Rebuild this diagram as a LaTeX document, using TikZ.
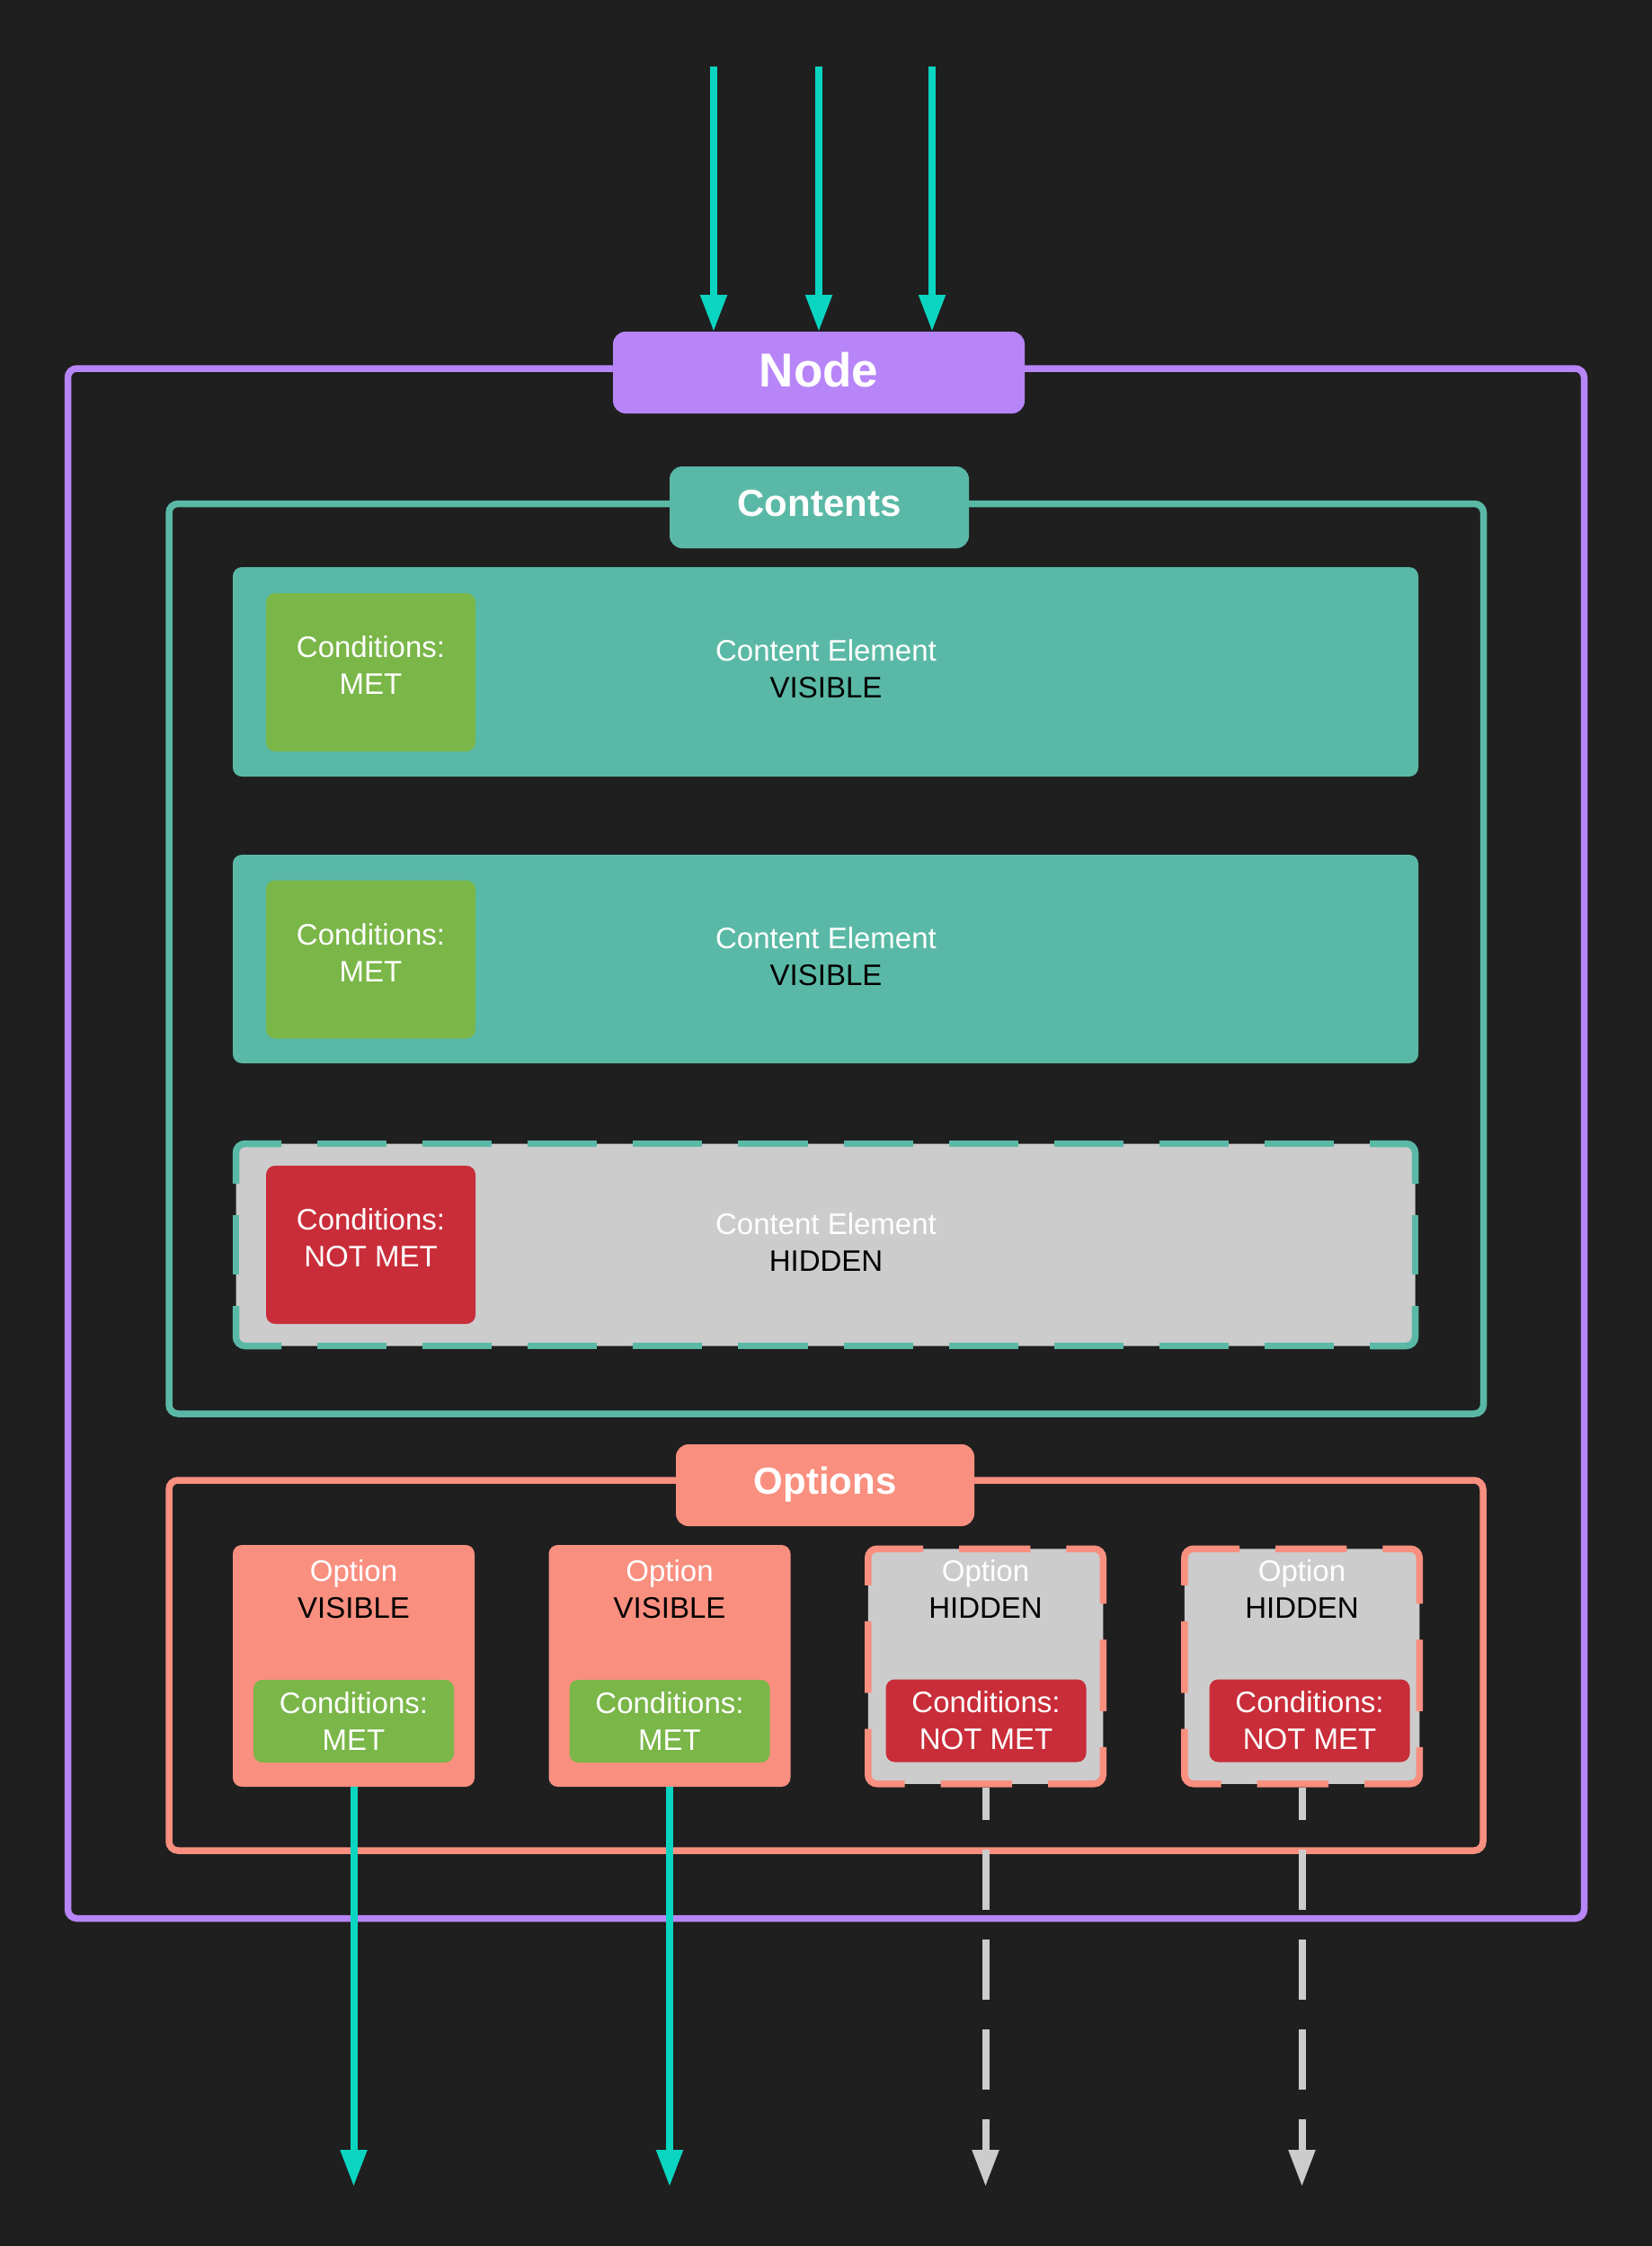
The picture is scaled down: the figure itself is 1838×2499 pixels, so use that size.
\documentclass[tikz,border=0pt]{standalone}
\usepackage{fontspec}
\setmainfont{Liberation Sans}
\usetikzlibrary{arrows.meta}
\definecolor{bg}{HTML}{1F1F1F}
\definecolor{npurple}{HTML}{B785F8}
\definecolor{nteal}{HTML}{5AB9A6}
\definecolor{ngreen}{HTML}{7AB648}
\definecolor{nred}{HTML}{C92D39}
\definecolor{nsalmon}{HTML}{F98F7F}
\definecolor{ngrey}{HTML}{CCCCCC}
\definecolor{ncyan}{HTML}{0AD5C1}
\begin{document}
\begin{tikzpicture}[x=1pt,y=-1pt,
  frame/.style={draw, line width=7.5pt, rounded corners=10pt, inner sep=0pt, outer sep=0pt, minimum width=1462pt},
  lbl/.style={rounded corners=14pt, inner sep=0pt, outer sep=0pt, text=white, minimum height=91pt},
  box/.style={rounded corners=10pt, inner sep=0pt, outer sep=0pt},
  txt/.style={text=white, align=center, inner sep=0pt, font=\fontsize{33}{41}\selectfont},
  optsize/.style={minimum width=269pt, minimum height=269pt},
  hidsize/.style={minimum width=261.5pt, minimum height=261.5pt},
  inner/.style={box, minimum width=223pt, minimum height=92pt},
  condbox/.style={box, minimum width=233pt, minimum height=176pt},
  optdash/.style={draw=nsalmon, line width=7.5pt, rounded corners=10pt, dash pattern=on 79.5pt off 40pt on 97.7pt off 40pt, dash phase=39.75pt},
  rowsolid/.style={draw=nteal, line width=7.5pt, rounded corners=10pt},
  rowdashh/.style={draw=nteal, line width=7.5pt, dash pattern=on 77.1pt off 40pt, dash phase=77.1pt},
  rowdashv/.style={draw=nteal, line width=7.5pt, dash pattern=on 66pt off 35pt, dash phase=66pt},
  cyanarr/.style={draw=ncyan, line width=8pt, -{Triangle[length=41pt,width=28pt]}},
  greyarr/.style={draw=ngrey, line width=8pt, dash pattern=on 67pt off 33pt, dash phase=30.5pt, -{Triangle[length=41pt,width=28pt]}}
]
\fill[bg] (0,0) rectangle (1838,2499);
\useasboundingbox (0,0) rectangle (1838,2499);

% outer node frame
\node[frame, draw=npurple, minimum width=1687pt, minimum height=1724.5pt] (outer) at (919,1272.25) {};
\node[lbl, fill=npurple, minimum width=458pt, font=\bfseries\fontsize{53}{60}\selectfont, text height=31pt, text depth=0pt] (nodelbl) at (911,414.5) {Node};

% contents frame
\node[frame, draw=nteal, minimum width=1462.5pt, minimum height=1012.5pt] (contents) at (919.25,1066.75) {};
\node[lbl, fill=nteal, minimum width=333pt, font=\bfseries\fontsize{42}{50}\selectfont, text height=19pt, text depth=0pt] (contlbl) at (911.5,564.5) {Contents};

% content rows
\node[box, fill=nteal, minimum width=1319pt, minimum height=233pt] (row1) at (918.5,747.5) {};
\node[condbox, fill=ngreen] (cond1) at (412.5,748) {};
\node[txt] (cond1t) at (412.5,740.5) {Conditions:\\MET};
\node[txt] (row1t) at (919,744.5) {Content Element\\\textcolor{black}{VISIBLE}};

\node[box, fill=nteal, minimum width=1319pt, minimum height=232pt] (row2) at (918.5,1067) {};
\node[condbox, fill=ngreen] (cond2) at (412.5,1067.5) {};
\node[txt] (cond2t) at (412.5,1060) {Conditions:\\MET};
\node[txt] (row2t) at (919,1064) {Content Element\\\textcolor{black}{VISIBLE}};

\node[box, fill=ngrey, minimum width=1312pt, minimum height=225pt] (row3) at (918.5,1385) {};
\draw[rowsolid] ([yshift=-44.5pt]row3.north west) -- (row3.north west) -- ([xshift=50.5pt]row3.north west);
\draw[rowsolid] ([xshift=-50.5pt]row3.north east) -- (row3.north east) -- ([yshift=-44.5pt]row3.north east);
\draw[rowsolid] ([yshift=44.5pt]row3.south east) -- (row3.south east) -- ([xshift=-50.5pt]row3.south east);
\draw[rowsolid] ([xshift=50.5pt]row3.south west) -- (row3.south west) -- ([yshift=44.5pt]row3.south west);
\draw[rowdashh] ([xshift=50.5pt]row3.north west) -- ([xshift=-50.5pt]row3.north east);
\draw[rowdashh] ([xshift=50.5pt]row3.south west) -- ([xshift=-50.5pt]row3.south east);
\draw[rowdashv] ([yshift=-44.5pt]row3.north west) -- ([yshift=44.5pt]row3.south west);
\draw[rowdashv] ([yshift=-44.5pt]row3.north east) -- ([yshift=44.5pt]row3.south east);
\node[condbox, fill=nred] (cond3) at (412.5,1385) {};
\node[txt] (cond3t) at (412.5,1377.5) {Conditions:\\NOT MET};
\node[txt] (row3t) at (919,1382) {Content Element\\\textcolor{black}{HIDDEN}};

% options frame
\node[frame, draw=nsalmon, minimum width=1462pt, minimum height=412pt] (options) at (919,1853) {};
\node[lbl, fill=nsalmon, minimum width=332pt, font=\bfseries\fontsize{42}{50}\selectfont, text height=19pt, text depth=0pt] (optlbl) at (918,1652.5) {Options};

% option boxes
\node[box, fill=nsalmon, optsize] (opt1) at (393.5,1853.5) {};
\node[txt, anchor=north] (opt1t) at (393.5,1735) {Option\\\textcolor{black}{VISIBLE}};
\node[inner, fill=ngreen] (oc1) at (393.5,1915) {};
\node[txt] (oc1t) at (393.5,1915) {Conditions:\\MET};

\node[box, fill=nsalmon, optsize] (opt2) at (745,1853.5) {};
\node[txt, anchor=north] (opt2t) at (745,1735) {Option\\\textcolor{black}{VISIBLE}};
\node[inner, fill=ngreen] (oc2) at (745,1915) {};
\node[txt] (oc2t) at (745,1915) {Conditions:\\MET};

\node[box, fill=ngrey, hidsize] (opt3) at (1096.5,1854) {};
\draw[optdash] (opt3.north) -- (opt3.north east) -- (opt3.south east) -- (opt3.south west) -- (opt3.north west) -- cycle;
\node[txt, anchor=north] (opt3t) at (1096.5,1735) {Option\\\textcolor{black}{HIDDEN}};
\node[inner, fill=nred] (oc3) at (1097,1914.5) {};
\node[txt] (oc3t) at (1097,1914.5) {Conditions:\\NOT MET};

\node[box, fill=ngrey, hidsize] (opt4) at (1448.5,1854) {};
\draw[optdash] (opt4.north) -- (opt4.north east) -- (opt4.south east) -- (opt4.south west) -- (opt4.north west) -- cycle;
\node[txt, anchor=north] (opt4t) at (1448.5,1735) {Option\\\textcolor{black}{HIDDEN}};
\node[inner, fill=nred] (oc4) at (1457,1914.5) {};
\node[txt] (oc4t) at (1457,1914.5) {Conditions:\\NOT MET};

% input arrows
\coordinate (in1) at (794,74);
\coordinate (in2) at (911,74);
\coordinate (in3) at (1037,74);
\draw[cyanarr] (in1) -- (in1 |- nodelbl.north);
\draw[cyanarr] (in2) -- (in2 |- nodelbl.north);
\draw[cyanarr] (in3) -- (in3 |- nodelbl.north);

% output arrows
\coordinate (out1) at (393.5,2433);
\coordinate (out2) at (745,2433);
\coordinate (out3) at (1096.5,2433);
\coordinate (out4) at (1448.5,2433);
\draw[cyanarr] (opt1.south) -- (out1);
\draw[cyanarr] (opt2.south) -- (out2);
\draw[greyarr] ([yshift=-3.75pt]opt3.south) -- (out3);
\draw[greyarr] ([yshift=-3.75pt]opt4.south) -- (out4);
\end{tikzpicture}
\end{document}
